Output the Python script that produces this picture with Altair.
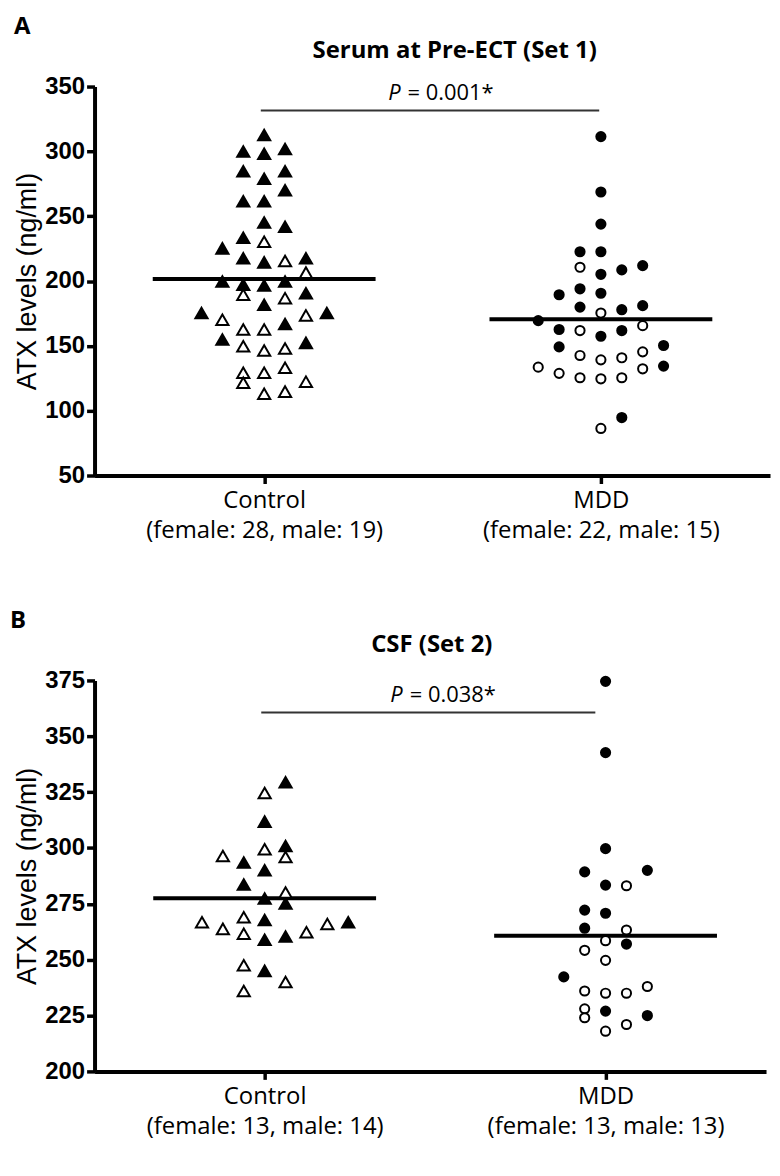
import json
import altair as alt
import pandas as pd

GROUPS = ["Control", "MDD"]

# ---------------- Panel A: Serum at Pre-ECT (Set 1) ----------------
A_CTRL_FEMALE = [312.6, 299.9, 298.1, 301.9, 284.6, 278.9, 284.6, 270.0, 261.5, 261.5,
                 245.1, 241.8, 233.4, 225.2, 217.5, 214.4, 217.5, 199.6, 197.1, 196.5,
                 199.6, 190.6, 181.7, 175.3, 175.3, 166.8, 154.9, 152.3]
A_CTRL_FEMALE_COL = [0, -1, 0, 1, -1, 0, 1, 1, -1, 0, 0, 1, -1, -2, -1, 0, 2, -2, -1, 0,
                     1, 2, 0, -3, 3, 1, -2, 2]
A_CTRL_MALE = [230.3, 215.5, 206.5, 189.4, 186.8, 170.2, 173.5, 162.6, 162.6, 149.7,
               146.4, 148.0, 129.3, 129.3, 133.1, 121.6, 122.4, 113.1, 114.7]
A_CTRL_MALE_COL = [0, 1, 2, -1, 1, -2, 2, -1, 0, -1, 0, 1, -1, 0, 1, -1, 2, 0, 1]
A_MDD_FEMALE = [311.4, 268.7, 243.9, 222.6, 222.6, 205.2, 208.6, 211.9, 189.4, 194.0,
                190.6, 179.9, 177.9, 181.0, 169.5, 162.6, 157.4, 161.8, 149.2, 150.3,
                134.4, 94.7]
A_MDD_FEMALE_COL = [0, 0, 0, -1, 0, 0, 1, 2, -2, -1, 0, -1, 1, 2, -3, -2, 0, 1, -2, 3, 3, 1]
A_MDD_MALE = [210.6, 175.3, 161.8, 165.6, 142.6, 139.2, 140.8, 145.4, 133.6, 128.8,
              125.4, 124.6, 125.4, 132.3, 86.3]
A_MDD_MALE_COL = [-1, 0, -1, 2, -1, 0, 1, 2, -3, -2, -1, 0, 1, 2, 0]
A_MEANS = [201.5, 170.5]
A_LABELS = [["Control", "(female: 28, male: 19)"], ["MDD", "(female: 22, male: 15)"]]
A_TITLE = "Serum at Pre-ECT (Set 1)"
A_P = "0.001*"
A_P_LINE = {"x1": -0.01, "x2": 0.995, "y": 331.5}
A_YTICKS = [50, 100, 150, 200, 250, 300, 350]

# ---------------- Panel B: CSF (Set 2) ----------------
B_CTRL_FEMALE = [329.4, 311.8, 300.9, 293.5, 290.0, 283.7, 277.4, 275.2, 267.8, 258.9,
                 260.4, 266.8, 245.0]
B_CTRL_FEMALE_COL = [1, 0, 1, -1, 0, -1, 0, 1, 0, 0, 1, 4, 0]
B_CTRL_MALE = [324.6, 299.4, 296.0, 296.4, 280.1, 266.8, 263.8, 269.0, 261.6, 262.3,
               266.0, 247.5, 240.0, 236.0]
B_CTRL_MALE_COL = [0, 0, 1, -2, 1, -3, -2, -1, -1, 2, 3, -1, 1, -1]
B_MDD_FEMALE = [374.6, 342.7, 299.7, 289.3, 290.0, 283.4, 272.2, 270.8, 264.1, 257.0,
                242.3, 227.0, 225.0]
B_MDD_FEMALE_COL = [0, 0, 0, -1, 2, 0, -1, 0, -1, 1, -2, 0, 2]
B_MDD_MALE = [283.1, 263.3, 258.5, 254.2, 249.7, 236.0, 235.0, 235.0, 238.0, 228.0,
              224.0, 221.0, 218.0]
B_MDD_MALE_COL = [1, 1, 0, -1, 0, -1, 0, 1, 2, -1, -1, 1, 0]
B_MEANS = [277.5, 260.7]
B_LABELS = [["Control", "(female: 13, male: 14)"], ["MDD", "(female: 13, male: 13)"]]
B_TITLE = "CSF (Set 2)"
B_P = "0.038*"
B_P_LINE = {"x1": -0.01, "x2": 0.97, "y": 360.6}
B_YTICKS = [200, 225, 250, 275, 300, 325, 350, 375]

COL_STEP_PX = 21.0
MEAN_HALF_PX = 112.0
CAL = "Open Sans"
ARIAL = "Liberation Sans"


def points_df(gi, sex, vals, cols):
    return pd.DataFrame({"g": gi, "sex": sex, "v": vals, "col": cols})


def build_panel(letter, title, frames, means, labels, ytick_vals, pval, pline,
                width, height, xdom, letter_dx, title_x):
    df = pd.concat(frames, ignore_index=True)
    px_unit = width / (xdom[1] - xdom[0])
    step = COL_STEP_PX / px_unit
    hw = MEAN_HALF_PX / px_unit
    xscale = alt.Scale(domain=xdom, nice=False, zero=False)
    yscale = alt.Scale(domain=[ytick_vals[0], ytick_vals[-1]], nice=False, zero=False)
    lab_expr = f"datum.value == 0 ? {json.dumps(labels[0])} : {json.dumps(labels[1])}"
    xaxis = alt.Axis(values=[0, 1], labelExpr=lab_expr, title=None, grid=False,
                     labelFont=CAL, labelFontSize=24, labelColor="black", labelLimit=0,
                     labelLineHeight=30, labelPadding=5, tickSize=8, tickWidth=3.5,
                     tickColor="black", domainColor="black", domainWidth=4)
    yaxis = alt.Axis(values=ytick_vals, title="ATX levels (ng/ml)", grid=False,
                     titleFont=ARIAL, titleFontSize=27, titleFontWeight="normal",
                     titleColor="black", titlePadding=3,
                     labelFont=ARIAL, labelFontSize=24, labelFontWeight="bold",
                     labelColor="black", labelPadding=2, tickSize=8, tickWidth=3.5,
                     tickColor="black", domainColor="black", domainWidth=4)

    pts = alt.Chart(df).transform_calculate(
        xpos=f"datum.g + datum.col * {step}"
    ).mark_point(filled=True, stroke="black", strokeWidth=2, opacity=1).encode(
        x=alt.X("xpos:Q", scale=xscale, axis=xaxis),
        y=alt.Y("v:Q", scale=yscale, axis=yaxis),
        shape=alt.Shape("g:N", scale=alt.Scale(domain=[0, 1], range=["triangle-up", "circle"]), legend=None),
        size=alt.Size("g:O", scale=alt.Scale(domain=[0, 1], range=[150, 85]), legend=None),
        fill=alt.Fill("sex:N", scale=alt.Scale(domain=["female", "male"], range=["black", "white"]), legend=None),
    )

    mdf = pd.DataFrame({"g": [0, 1], "m": means})
    mean_rule = alt.Chart(mdf).transform_calculate(
        x1=f"datum.g - {hw}", x2=f"datum.g + {hw}"
    ).mark_rule(color="black", strokeWidth=4).encode(
        x=alt.X("x1:Q", scale=xscale), x2="x2:Q", y=alt.Y("m:Q", scale=yscale)
    )

    pdf = pd.DataFrame({"x1": [pline["x1"]], "x2": [pline["x2"]], "y": [pline["y"]],
                        "p": ["P"], "rest": ["= " + pval]})
    p_rule = alt.Chart(pdf).mark_rule(color="#333333", strokeWidth=2).encode(
        x=alt.X("x1:Q", scale=xscale), x2="x2:Q", y=alt.Y("y:Q", scale=yscale)
    )
    p_x = 0.405
    p_it = alt.Chart(pdf).transform_calculate(px=f"{p_x}").mark_text(
        font=CAL, fontSize=22, fontStyle="italic", align="right",
        baseline="alphabetic", dy=-11, color="black").encode(
        x=alt.X("px:Q", scale=xscale), y=alt.Y("y:Q", scale=yscale), text="p:N")
    p_rest = alt.Chart(pdf).transform_calculate(px=f"{p_x}").mark_text(
        font=CAL, fontSize=22, align="left", baseline="alphabetic", dy=-11, dx=7,
        color="black").encode(
        x=alt.X("px:Q", scale=xscale), y=alt.Y("y:Q", scale=yscale), text="rest:N")

    tdf = pd.DataFrame({"t": [title], "l": [letter]})
    title_txt = alt.Chart(tdf).mark_text(font=CAL, fontSize=24, fontWeight="bold",
                                         align="center", baseline="middle",
                                         color="black").encode(
        x=alt.value(title_x), y=alt.value(-36), text="t:N")
    letter_txt = alt.Chart(tdf).mark_text(font=CAL, fontSize=24, fontWeight="bold",
                                          align="left", baseline="middle",
                                          color="black").encode(
        x=alt.value(letter_dx), y=alt.value(-60), text="l:N")

    return alt.layer(p_rule, mean_rule, pts, p_it, p_rest, title_txt, letter_txt).properties(
        width=width, height=height)


A_frames = [
    points_df(0, "female", A_CTRL_FEMALE, A_CTRL_FEMALE_COL),
    points_df(0, "male", A_CTRL_MALE, A_CTRL_MALE_COL),
    points_df(1, "female", A_MDD_FEMALE, A_MDD_FEMALE_COL),
    points_df(1, "male", A_MDD_MALE, A_MDD_MALE_COL),
]
B_frames = [
    points_df(0, "female", B_CTRL_FEMALE, B_CTRL_FEMALE_COL),
    points_df(0, "male", B_CTRL_MALE, B_CTRL_MALE_COL),
    points_df(1, "female", B_MDD_FEMALE, B_MDD_FEMALE_COL),
    points_df(1, "male", B_MDD_MALE, B_MDD_MALE_COL),
]

panel_a = build_panel("A", A_TITLE, A_frames, A_MEANS, A_LABELS, A_YTICKS, A_P, A_P_LINE,
                      679, 391, [-0.5037, 1.5022], -81, 362)
panel_b = build_panel("B", B_TITLE, B_frames, B_MEANS, B_LABELS, B_YTICKS, B_P, B_P_LINE,
                      675, 393, [-0.499, 1.4707], -85, 339)

chart = alt.vconcat(panel_a, panel_b, spacing=67).properties(
    padding={"left": 2, "top": 4, "right": 2, "bottom": 0}
).configure_view(stroke=None)

chart.save("out.html", embed_options={"renderer": "svg", "actions": False})
